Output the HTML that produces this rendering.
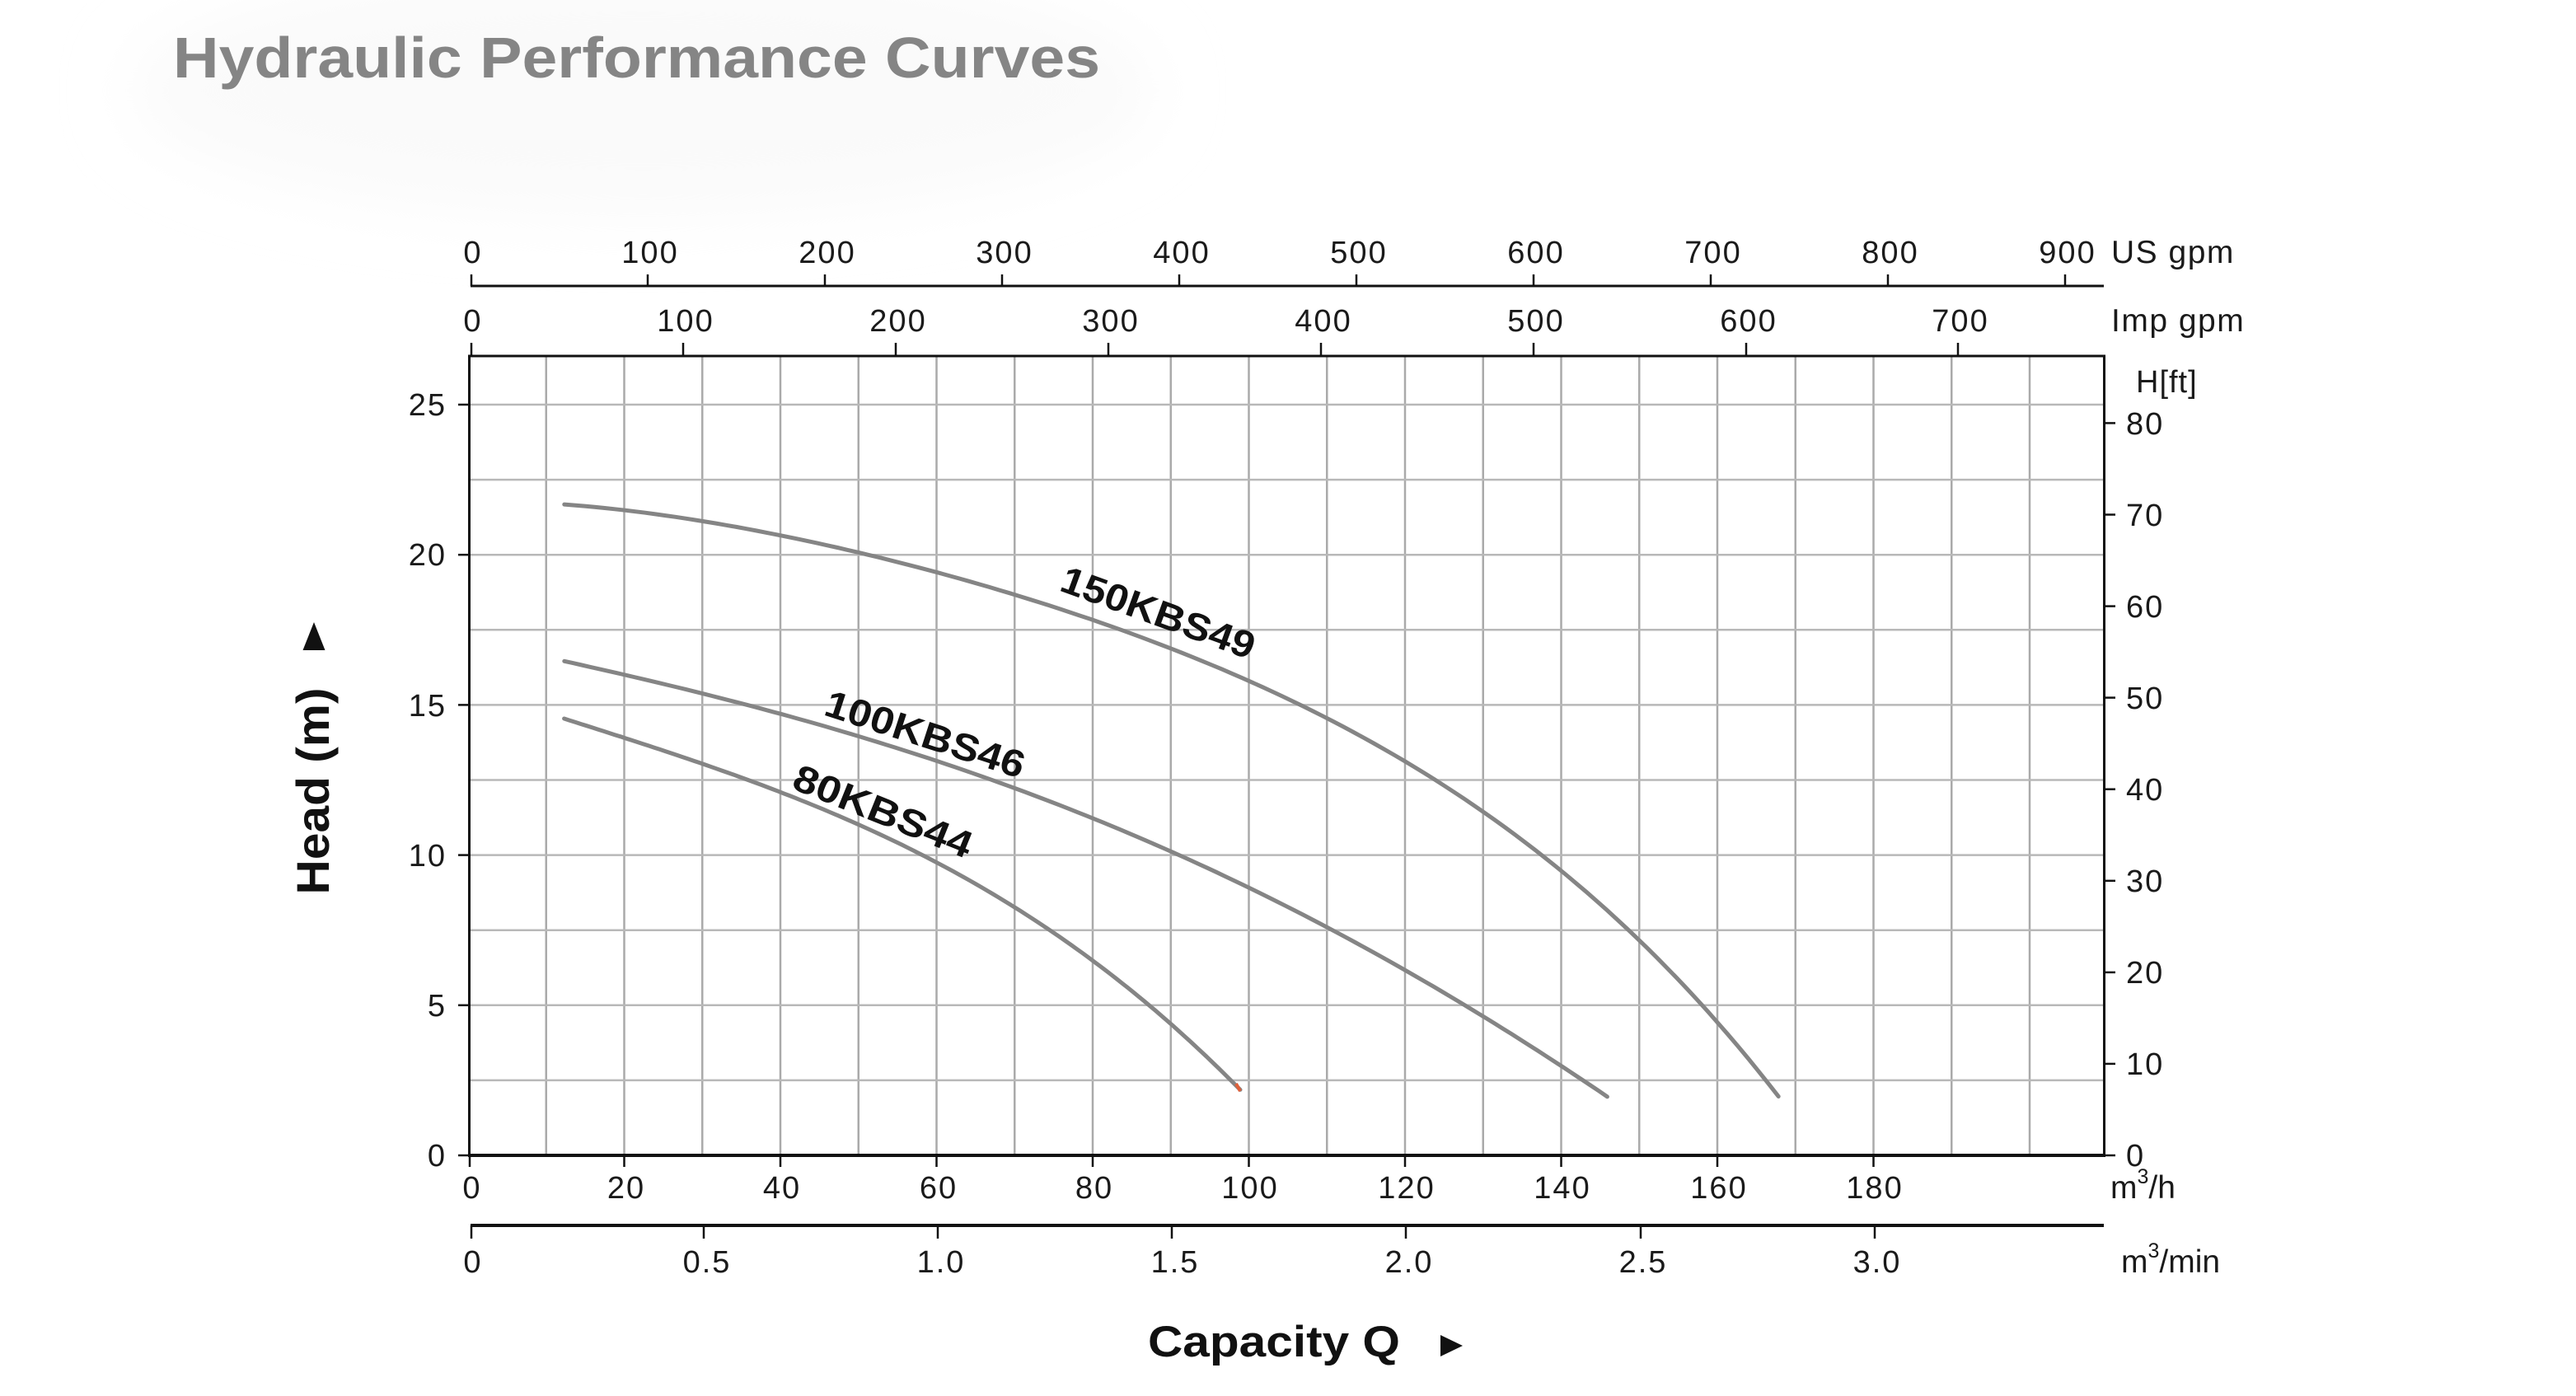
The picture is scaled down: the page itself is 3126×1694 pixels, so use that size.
<!DOCTYPE html>
<html>
<head>
<meta charset="utf-8">
<style>
html,body{margin:0;padding:0;background:#ffffff;}
svg{display:block;}
text{font-family:"Liberation Sans",sans-serif;}
</style>
</head>
<body>
<svg id="chart" width="3126" height="1694" viewBox="0 0 3126 1694" xmlns="http://www.w3.org/2000/svg">
<defs>
<filter id="blur" x="-30%" y="-50%" width="160%" height="200%"><feGaussianBlur stdDeviation="40"/></filter>
</defs>
<rect x="0" y="0" width="3126" height="1694" fill="#ffffff"/>
<ellipse cx="780" cy="110" rx="620" ry="150" fill="#fafafa" filter="url(#blur)"/>

<!-- Title -->
<text x="210" y="94" font-size="70" font-weight="bold" fill="#858585" textLength="1125" lengthAdjust="spacingAndGlyphs">Hydraulic Performance Curves</text>

<!-- Grid vertical -->
<g stroke="#aaaaaa" stroke-width="2.5">
<line x1="662.75" y1="432" x2="662.75" y2="1402"/>
<line x1="757.5" y1="432" x2="757.5" y2="1402"/>
<line x1="852.25" y1="432" x2="852.25" y2="1402"/>
<line x1="947" y1="432" x2="947" y2="1402"/>
<line x1="1041.75" y1="432" x2="1041.75" y2="1402"/>
<line x1="1136.5" y1="432" x2="1136.5" y2="1402"/>
<line x1="1231.25" y1="432" x2="1231.25" y2="1402"/>
<line x1="1326" y1="432" x2="1326" y2="1402"/>
<line x1="1420.75" y1="432" x2="1420.75" y2="1402"/>
<line x1="1515.5" y1="432" x2="1515.5" y2="1402"/>
<line x1="1610.25" y1="432" x2="1610.25" y2="1402"/>
<line x1="1705" y1="432" x2="1705" y2="1402"/>
<line x1="1799.75" y1="432" x2="1799.75" y2="1402"/>
<line x1="1894.5" y1="432" x2="1894.5" y2="1402"/>
<line x1="1989.25" y1="432" x2="1989.25" y2="1402"/>
<line x1="2084" y1="432" x2="2084" y2="1402"/>
<line x1="2178.75" y1="432" x2="2178.75" y2="1402"/>
<line x1="2273.5" y1="432" x2="2273.5" y2="1402"/>
<line x1="2368.25" y1="432" x2="2368.25" y2="1402"/>
<line x1="2463" y1="432" x2="2463" y2="1402"/>
</g>
<!-- Grid horizontal -->
<g stroke="#b8b8b8" stroke-width="2.5">
<line x1="570" y1="1310.9" x2="2553" y2="1310.9"/>
<line x1="570" y1="1219.8" x2="2553" y2="1219.8"/>
<line x1="570" y1="1128.7" x2="2553" y2="1128.7"/>
<line x1="570" y1="1037.6" x2="2553" y2="1037.6"/>
<line x1="570" y1="946.5" x2="2553" y2="946.5"/>
<line x1="570" y1="855.4" x2="2553" y2="855.4"/>
<line x1="570" y1="764.3" x2="2553" y2="764.3"/>
<line x1="570" y1="673.2" x2="2553" y2="673.2"/>
<line x1="570" y1="582.1" x2="2553" y2="582.1"/>
<line x1="570" y1="491" x2="2553" y2="491"/>
</g>

<!-- Plot border -->
<g stroke="#111111" fill="none">
<line x1="569.5" y1="432" x2="2553.5" y2="432" stroke-width="3"/>
<line x1="569.5" y1="430.5" x2="569.5" y2="1404" stroke-width="3"/>
<line x1="2553.5" y1="430.5" x2="2553.5" y2="1404" stroke-width="3"/>
<line x1="568" y1="1402" x2="2555" y2="1402" stroke-width="4"/>
</g>

<!-- Left ticks & labels -->
<g stroke="#111111" stroke-width="2.5">
<line x1="556" y1="1402" x2="570" y2="1402"/>
<line x1="556" y1="1219.8" x2="570" y2="1219.8"/>
<line x1="556" y1="1037.6" x2="570" y2="1037.6"/>
<line x1="556" y1="855.4" x2="570" y2="855.4"/>
<line x1="556" y1="673.2" x2="570" y2="673.2"/>
<line x1="556" y1="491" x2="570" y2="491"/>
</g>
<g font-size="38" fill="#1a1a1a" text-anchor="end" letter-spacing="2">
<text x="542" y="1415">0</text>
<text x="542" y="1233">5</text>
<text x="542" y="1051">10</text>
<text x="542" y="869">15</text>
<text x="542" y="686">20</text>
<text x="542" y="504">25</text>
</g>

<!-- Right ft ticks & labels -->
<g stroke="#111111" stroke-width="2.5">
<line x1="2553" y1="1402" x2="2567" y2="1402"/>
<line x1="2553" y1="1290.9" x2="2567" y2="1290.9"/>
<line x1="2553" y1="1179.9" x2="2567" y2="1179.9"/>
<line x1="2553" y1="1068.8" x2="2567" y2="1068.8"/>
<line x1="2553" y1="957.7" x2="2567" y2="957.7"/>
<line x1="2553" y1="846.6" x2="2567" y2="846.6"/>
<line x1="2553" y1="735.6" x2="2567" y2="735.6"/>
<line x1="2553" y1="624.5" x2="2567" y2="624.5"/>
<line x1="2553" y1="513.4" x2="2567" y2="513.4"/>
</g>
<g font-size="38" fill="#1a1a1a" letter-spacing="2">
<text x="2580" y="1415">0</text>
<text x="2580" y="1304">10</text>
<text x="2580" y="1193">20</text>
<text x="2580" y="1082">30</text>
<text x="2580" y="971">40</text>
<text x="2580" y="860">50</text>
<text x="2580" y="749">60</text>
<text x="2580" y="638">70</text>
<text x="2580" y="527">80</text>
<text x="2592" y="476" letter-spacing="1">H[ft]</text>
</g>

<!-- Bottom m3/h ticks & labels -->
<g stroke="#111111" stroke-width="2.5">
<line x1="570" y1="1402" x2="570" y2="1416"/>
<line x1="757.5" y1="1402" x2="757.5" y2="1416"/>
<line x1="947" y1="1402" x2="947" y2="1416"/>
<line x1="1136.5" y1="1402" x2="1136.5" y2="1416"/>
<line x1="1326" y1="1402" x2="1326" y2="1416"/>
<line x1="1515.5" y1="1402" x2="1515.5" y2="1416"/>
<line x1="1705" y1="1402" x2="1705" y2="1416"/>
<line x1="1894.5" y1="1402" x2="1894.5" y2="1416"/>
<line x1="2084" y1="1402" x2="2084" y2="1416"/>
<line x1="2273.5" y1="1402" x2="2273.5" y2="1416"/>
</g>
<g font-size="38" fill="#1a1a1a" text-anchor="middle" letter-spacing="2">
<text x="573" y="1454">0</text>
<text x="760" y="1454">20</text>
<text x="949" y="1454">40</text>
<text x="1139" y="1454">60</text>
<text x="1328" y="1454">80</text>
<text x="1517" y="1454">100</text>
<text x="1707" y="1454">120</text>
<text x="1896" y="1454">140</text>
<text x="2086" y="1454">160</text>
<text x="2275" y="1454">180</text>
</g>
<text x="2561" y="1454" font-size="39" fill="#1a1a1a">m<tspan font-size="25" dy="-18">3</tspan><tspan dy="18">/h</tspan></text>

<!-- m3/min axis -->
<line x1="571" y1="1487" x2="2553" y2="1487" stroke="#111111" stroke-width="4"/>
<g stroke="#111111" stroke-width="2.5">
<line x1="572" y1="1487" x2="572" y2="1503"/>
<line x1="854" y1="1487" x2="854" y2="1503"/>
<line x1="1138" y1="1487" x2="1138" y2="1503"/>
<line x1="1422" y1="1487" x2="1422" y2="1503"/>
<line x1="1706" y1="1487" x2="1706" y2="1503"/>
<line x1="1991" y1="1487" x2="1991" y2="1503"/>
<line x1="2275" y1="1487" x2="2275" y2="1503"/>
</g>
<g font-size="38" fill="#1a1a1a" text-anchor="middle" letter-spacing="2">
<text x="574" y="1544">0</text>
<text x="858" y="1544">0.5</text>
<text x="1142" y="1544">1.0</text>
<text x="1426" y="1544">1.5</text>
<text x="1710" y="1544">2.0</text>
<text x="1994" y="1544">2.5</text>
<text x="2278" y="1544">3.0</text>
</g>
<text x="2574" y="1544" font-size="39" fill="#1a1a1a">m<tspan font-size="25" dy="-18">3</tspan><tspan dy="18">/min</tspan></text>

<!-- US gpm axis -->
<line x1="571" y1="347" x2="2553" y2="347" stroke="#111111" stroke-width="3"/>
<g stroke="#111111" stroke-width="2.5">
<line x1="572" y1="333" x2="572" y2="347"/>
<line x1="786" y1="333" x2="786" y2="347"/>
<line x1="1001" y1="333" x2="1001" y2="347"/>
<line x1="1216" y1="333" x2="1216" y2="347"/>
<line x1="1431" y1="333" x2="1431" y2="347"/>
<line x1="1646" y1="333" x2="1646" y2="347"/>
<line x1="1861" y1="333" x2="1861" y2="347"/>
<line x1="2076" y1="333" x2="2076" y2="347"/>
<line x1="2291" y1="333" x2="2291" y2="347"/>
<line x1="2506" y1="333" x2="2506" y2="347"/>
</g>
<g font-size="38" fill="#1a1a1a" text-anchor="middle" letter-spacing="2">
<text x="574" y="319">0</text>
<text x="789" y="319">100</text>
<text x="1004" y="319">200</text>
<text x="1219" y="319">300</text>
<text x="1434" y="319">400</text>
<text x="1649" y="319">500</text>
<text x="1864" y="319">600</text>
<text x="2079" y="319">700</text>
<text x="2294" y="319">800</text>
<text x="2509" y="319">900</text>
</g>
<text x="2562" y="319" font-size="39" fill="#1a1a1a" letter-spacing="1.5">US gpm</text>

<!-- Imp gpm axis -->
<g stroke="#111111" stroke-width="2.5">
<line x1="572" y1="416" x2="572" y2="432"/>
<line x1="829" y1="416" x2="829" y2="432"/>
<line x1="1087" y1="416" x2="1087" y2="432"/>
<line x1="1345" y1="416" x2="1345" y2="432"/>
<line x1="1603" y1="416" x2="1603" y2="432"/>
<line x1="1861" y1="416" x2="1861" y2="432"/>
<line x1="2119" y1="416" x2="2119" y2="432"/>
<line x1="2376" y1="416" x2="2376" y2="432"/>
</g>
<g font-size="38" fill="#1a1a1a" text-anchor="middle" letter-spacing="2">
<text x="574" y="402">0</text>
<text x="832" y="402">100</text>
<text x="1090" y="402">200</text>
<text x="1348" y="402">300</text>
<text x="1606" y="402">400</text>
<text x="1864" y="402">500</text>
<text x="2122" y="402">600</text>
<text x="2379" y="402">700</text>
</g>
<text x="2562" y="402" font-size="39" fill="#1a1a1a" letter-spacing="1.5">Imp gpm</text>

<!-- Curves -->
<g fill="none" stroke="#858585" stroke-width="5" stroke-linejoin="round" stroke-linecap="round">
<polyline id="c1" data-deg="4" points="684.8,611.7 757.5,620 851.9,635 946.9,651.7 1042,671.7 1136.3,693.3 1231.4,718.3 1325.8,748.3 1420.7,784.5 1515.3,826.5 1610.6,876.8 1705.3,929.4 1800,988.3 1894,1053.5 1988.9,1133.5 2084.2,1238.7 2158.2,1331.3"/>
<polyline id="c2" data-deg="4" points="684.8,802.3 757.5,818.3 851.9,841.7 946.9,866.7 1042,894.5 1136.5,923.3 1231.2,955 1325.7,991 1420.7,1032.5 1515.5,1079.4 1610.6,1127.2 1705.3,1177.7 1800,1232.4 1894.1,1289.2 1950.4,1331.3"/>
<polyline id="c3" data-deg="3" points="684.6,872.2 757.3,895 852,925 947.4,960 1042,1001.7 1136.8,1048.3 1231,1103.3 1325.7,1165 1421,1236.7 1505,1323"/>
</g>
<line x1="1500" y1="1315" x2="1505" y2="1324" stroke="#e0603a" stroke-width="4"/>

<!-- Curve labels -->
<g font-size="46" font-weight="bold" fill="#111111">
<text x="1284" y="716" transform="rotate(20 1284 716)" textLength="247" lengthAdjust="spacingAndGlyphs">150KBS49</text>
<text x="998" y="867" transform="rotate(18 998 867)" textLength="252" lengthAdjust="spacingAndGlyphs">100KBS46</text>
<text x="959" y="956" transform="rotate(22 959 956)" textLength="230" lengthAdjust="spacingAndGlyphs">80KBS44</text>
</g>

<!-- Axis titles -->
<text transform="translate(399,960) rotate(-90)" text-anchor="middle" font-size="56" font-weight="bold" fill="#111111" textLength="251" lengthAdjust="spacingAndGlyphs">Head (m)</text>
<polygon points="381,755 367.5,789 394.5,789" fill="#111111"/>

<text x="1393" y="1646" font-size="53" font-weight="bold" fill="#111111" textLength="306" lengthAdjust="spacingAndGlyphs">Capacity Q</text>
<polygon points="1748,1620 1748,1646 1775,1633" fill="#111111"/>
</svg>
<script>
(function(){
  function solve(A,b){
    var n=b.length,i,j,k;
    for(i=0;i<n;i++){
      var mx=i;
      for(k=i+1;k<n;k++) if(Math.abs(A[k][i])>Math.abs(A[mx][i])) mx=k;
      var t=A[i];A[i]=A[mx];A[mx]=t;var tb=b[i];b[i]=b[mx];b[mx]=tb;
      for(k=i+1;k<n;k++){
        var f=A[k][i]/A[i][i];
        for(j=i;j<n;j++) A[k][j]-=f*A[i][j];
        b[k]-=f*b[i];
      }
    }
    var x=new Array(n);
    for(i=n-1;i>=0;i--){
      var s=b[i];
      for(j=i+1;j<n;j++) s-=A[i][j]*x[j];
      x[i]=s/A[i][i];
    }
    return x;
  }
  ['c1','c2','c3'].forEach(function(id){
    var el=document.getElementById(id);
    if(!el) return;
    var deg=parseInt(el.getAttribute('data-deg'),10)||3;
    var raw=el.getAttribute('points').trim().split(/\s+/).map(function(s){var a=s.split(',');return [parseFloat(a[0]),parseFloat(a[1])];});
    var n=raw.length;
    var x0=raw[0][0], x1=raw[n-1][0], sc=(x1-x0);
    var m=deg+1, A=[], b=[], i, j, k;
    for(i=0;i<m;i++){A.push(new Array(m).fill(0));b.push(0);}
    for(k=0;k<n;k++){
      var u=(raw[k][0]-x0)/sc, w=(k===0||k===n-1)?6:1;
      var pw=[];for(i=0;i<2*m;i++) pw.push(Math.pow(u,i));
      for(i=0;i<m;i++){
        for(j=0;j<m;j++) A[i][j]+=w*pw[i+j];
        b[i]+=w*pw[i]*raw[k][1];
      }
    }
    var c=solve(A,b);
    if(c.some(function(v){return !isFinite(v);})) return;
    var out=[], N=120;
    for(k=0;k<=N;k++){
      var uu=k/N, yy=0;
      for(i=0;i<m;i++) yy+=c[i]*Math.pow(uu,i);
      out.push((x0+uu*sc).toFixed(1)+','+yy.toFixed(1));
    }
    el.setAttribute('points',out.join(' '));
  });
})();
</script>
</body>
</html>
